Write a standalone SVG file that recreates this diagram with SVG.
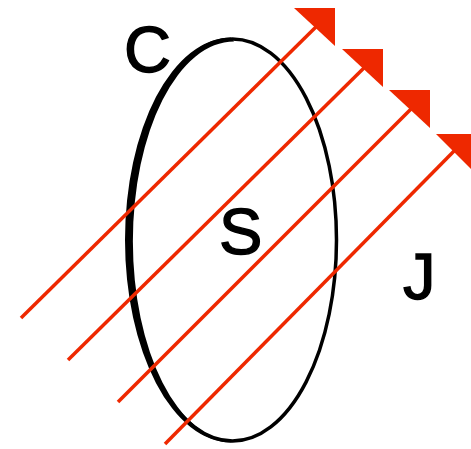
<svg xmlns="http://www.w3.org/2000/svg" width="471" height="449" viewBox="0 0 471 449">
<style>
.lbl{font-family:"Liberation Sans",Arial,sans-serif;font-size:65px;fill:#000;stroke:#000;stroke-width:1.4}
.ray{stroke:#ee2800;stroke-width:3.5;fill:none}
.head{fill:#ee2800}
</style>
<rect width="471" height="449" fill="#fff"/>
<g id="loop">
<ellipse cx="232.5" cy="240" rx="104" ry="201" fill="none" stroke="#000" stroke-width="3.5"/>
<path d="M231 37.5 A106 202.5 0 0 0 231 442.5 L234 441 A101 199.5 0 0 1 234 41.5 Z" fill="#000"/>
</g>
<g id="connectors">
<line class="ray" x1="21" y1="318" x2="323" y2="20"/>
<polygon class="head" points="294,8 335,8 335,46"/>
<line class="ray" x1="68" y1="360" x2="371" y2="61"/>
<polygon class="head" points="342,49 383,49 383,87"/>
<line class="ray" x1="118" y1="402" x2="418" y2="102"/>
<polygon class="head" points="389,90 430,90 430,128"/>
<line class="ray" x1="165" y1="444" x2="459" y2="146"/>
<polygon class="head" points="436,134 472,134 472,170"/>
</g>
<g id="labels">
<text class="lbl" x="124" y="72">C</text>
<text class="lbl" x="219" y="254">S</text>
<text class="lbl" x="403" y="299">J</text>
</g>
</svg>
